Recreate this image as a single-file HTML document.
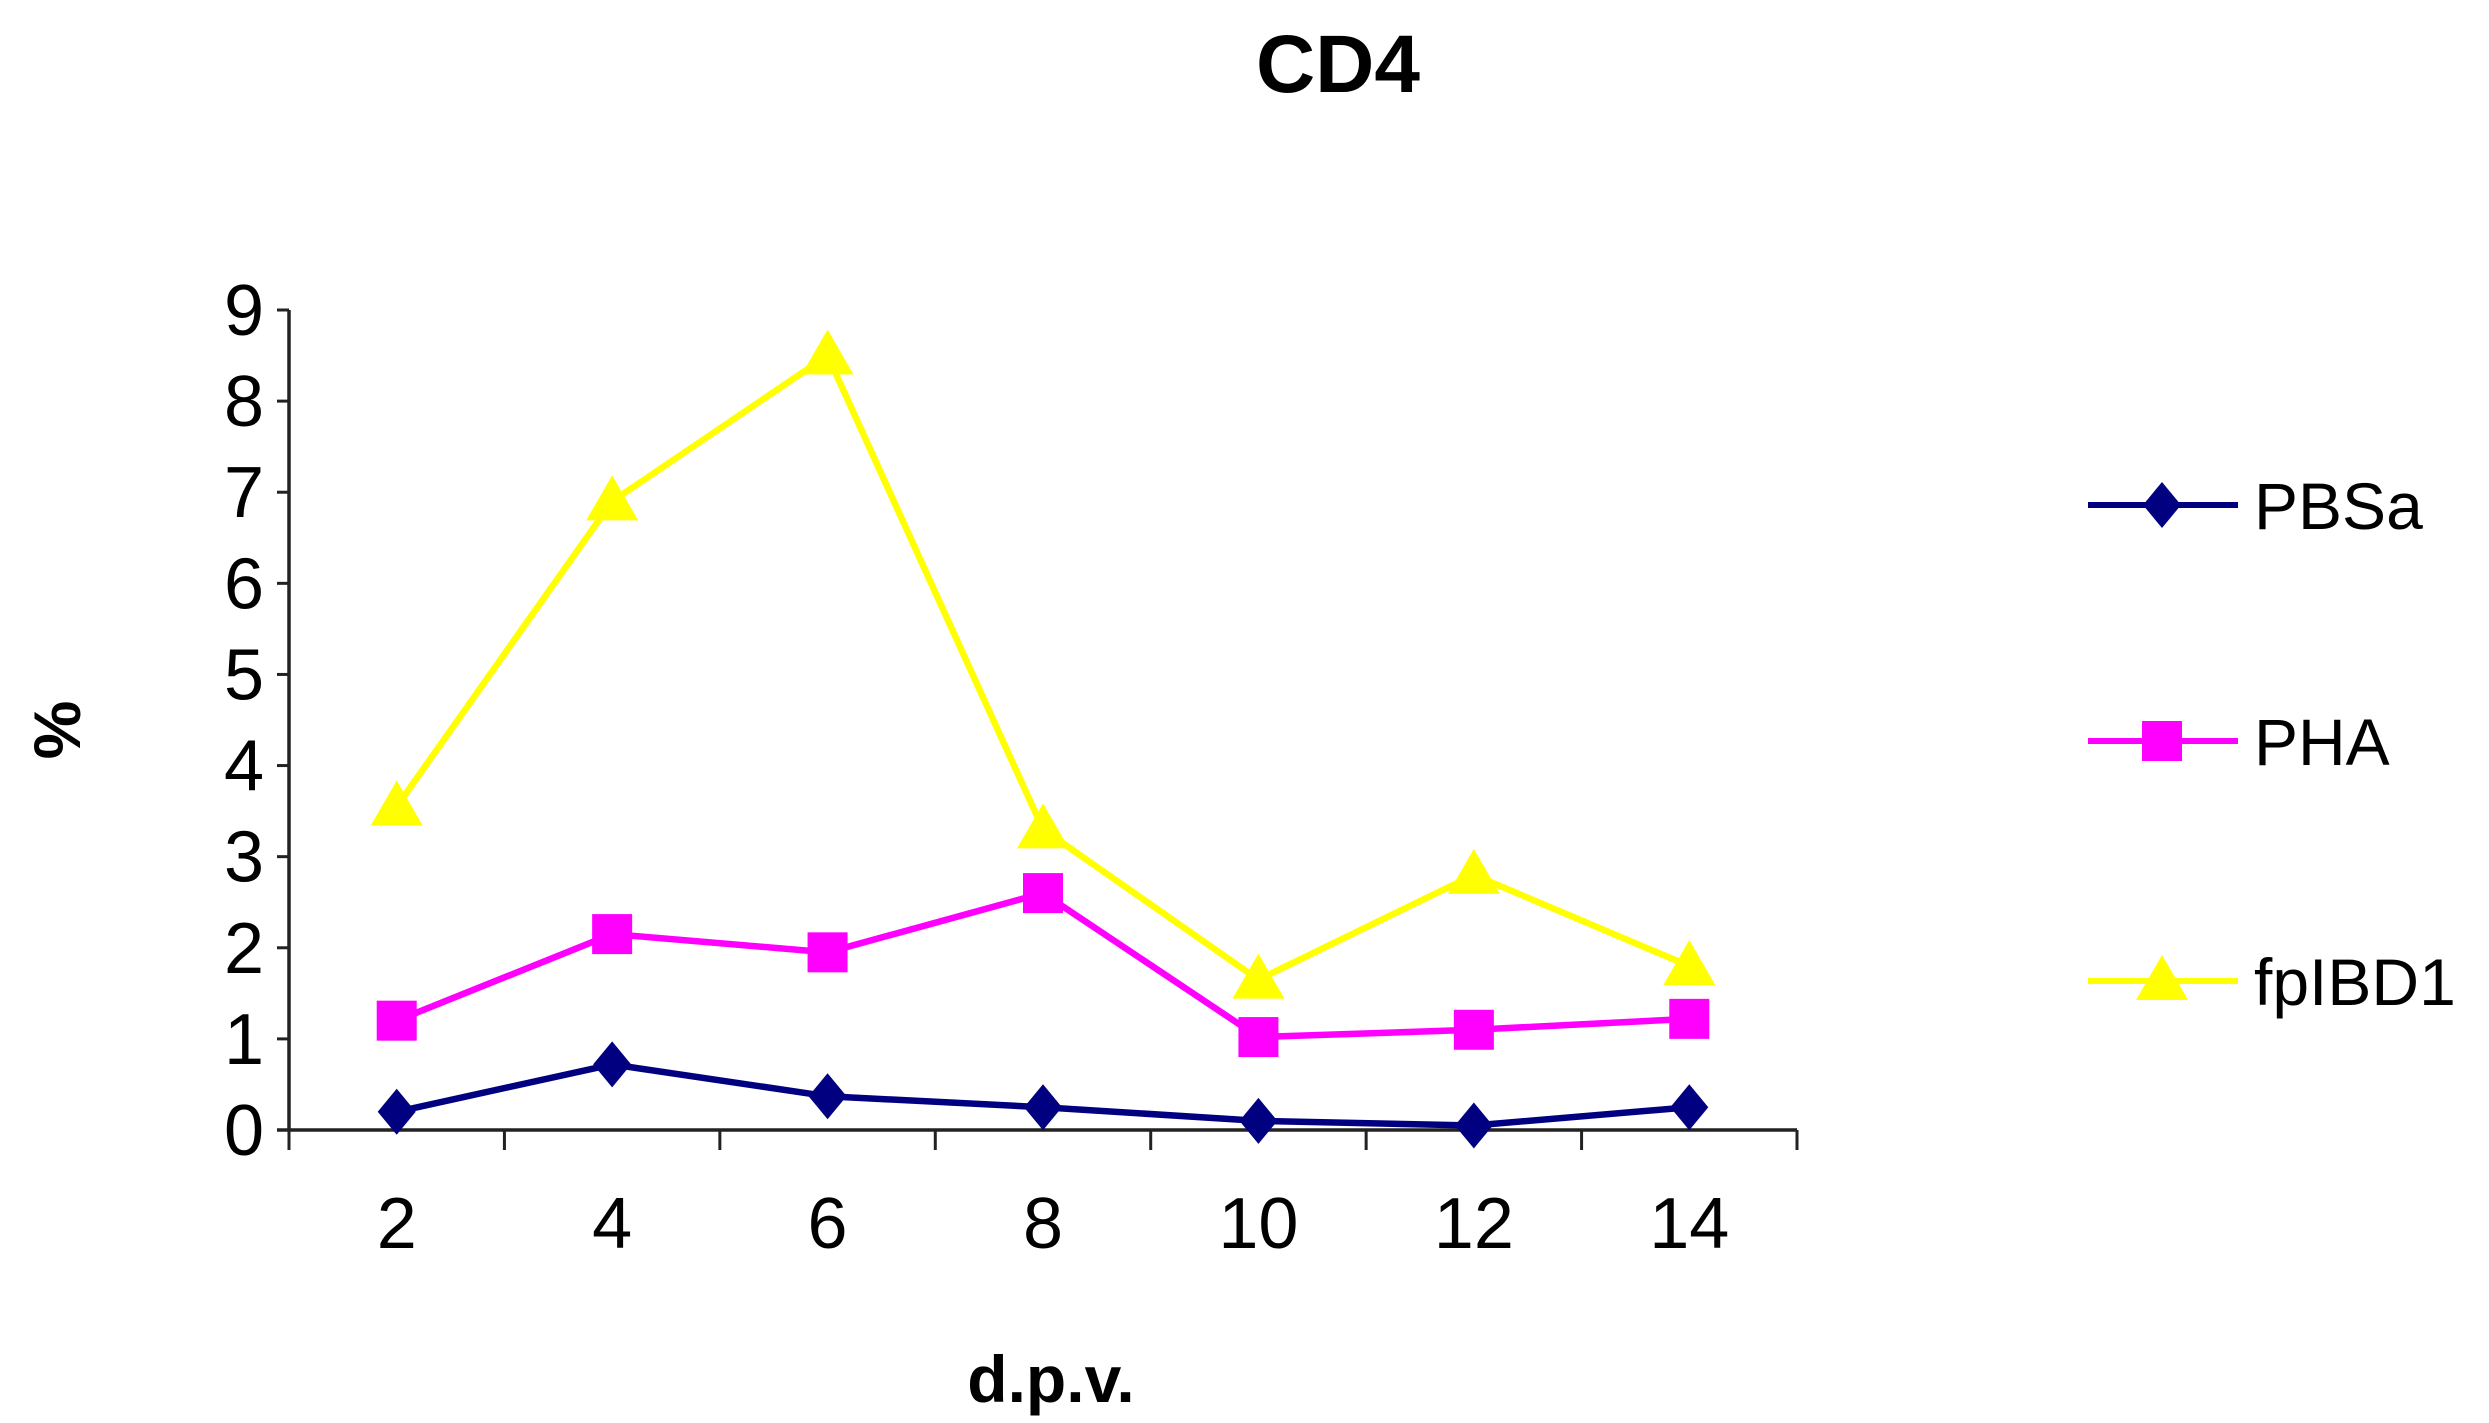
<!DOCTYPE html>
<html><head><meta charset="utf-8"><style>
html,body{margin:0;padding:0;background:#fff;}
svg{display:block;font-family:"Liberation Sans",Arial,sans-serif;}
</style></head><body>
<svg id="chart" width="2489" height="1423" viewBox="0 0 2489 1423" xmlns="http://www.w3.org/2000/svg">
<text x="1338" y="92" text-anchor="middle" font-size="82" font-weight="bold">CD4</text>
<text x="0" y="0" transform="translate(80,730) rotate(-90)" text-anchor="middle" font-size="66" font-weight="bold">%</text>
<text x="1051" y="1402" text-anchor="middle" font-size="66" font-weight="bold">d.p.v.</text>
<g id="axes"></g>
<g id="series"></g>
<g id="legend"></g>
</svg>
<script>
const categories = ["2","4","6","8","10","12","14"];
const yTicks = [0,1,2,3,4,5,6,7,8,9];
const pbsa = [0.2,0.72,0.37,0.25,0.1,0.05,0.25];
const pha = [1.2,2.15,1.95,2.6,1.02,1.1,1.22];
const fpibd1 = [3.55,6.9,8.5,3.3,1.65,2.8,1.8];
const seriesNames = ["PBSa","PHA","fpIBD1"];

const NS="http://www.w3.org/2000/svg";
const X0=289, X1=1797, Y0=1130, Y9=310;
const band=(X1-X0)/categories.length;
function xPos(i){return X0+band*(i+0.5);}
function yPos(v){return Y0-(Y0-Y9)*v/9;}
function mk(tag,attrs,parent){const e=document.createElementNS(NS,tag);for(const k in attrs)e.setAttribute(k,attrs[k]);parent.appendChild(e);return e;}
const axes=document.getElementById('axes');
let yl=mk('line',{x1:X0,y1:Y9,x2:X0,y2:Y0,stroke:'#222','stroke-width':3.5},axes);


let xl=mk('line',{x1:X0-12,y1:Y0,x2:X1,y2:Y0,stroke:'#222','stroke-width':3.5},axes);


yTicks.forEach(v=>{
  const y=yPos(v);
  mk('line',{x1:X0-12,y1:y,x2:X0,y2:y,stroke:'#222','stroke-width':3},axes);
  const t=mk('text',{x:264,y:y+25,'text-anchor':'end','font-size':72},axes);
  t.textContent=v;
  
  
});
for(let i=0;i<=categories.length;i++){
  mk('line',{x1:X0+band*i,y1:Y0,x2:X0+band*i,y2:Y0+20,stroke:'#222','stroke-width':3},axes);
}
categories.forEach((c,i)=>{
  const t=mk('text',{x:xPos(i),y:1248,'text-anchor':'middle','font-size':72},axes);
  t.textContent=c;
  
  
});
function marker(type,cx,cy,color,parent){
  let e;
  if(type==='diamond') e=mk('polygon',{points:`${cx},${cy-23} ${cx+19},${cy} ${cx},${cy+23} ${cx-19},${cy}`,fill:color},parent);
  else if(type==='square') e=mk('rect',{x:cx-20,y:cy-20,width:40,height:40,fill:color},parent);
  else e=mk('polygon',{points:`${cx},${cy-26} ${cx+26},${cy+19} ${cx-26},${cy+19}`,fill:color},parent);
  return e;
}
const sg=document.getElementById('series');
const defs=[[pbsa,'#000080','diamond','pbsa'],[pha,'#ff00ff','square','pha'],[fpibd1,'#ffff00','triangle','fpibd1']];
defs.forEach(([data,col,type,nm])=>{
  const pl=mk('polyline',{points:data.map((v,i)=>xPos(i)+','+yPos(v)).join(' '),fill:'none',stroke:col,'stroke-width':6.5},sg);
  
  
  data.forEach((v,i)=>{
    const m=marker(type,xPos(i),yPos(v),col,sg);
    
    
  });
});
const lg=document.getElementById('legend');
const ly=[505,741,981];
defs.forEach(([data,col,type,nm],k)=>{
  const g=mk('g',{},lg);
  
  
  mk('line',{x1:2088,y1:ly[k],x2:2238,y2:ly[k],stroke:col,'stroke-width':6},g);
  marker(type,2162,ly[k],col,g);
  const t=mk('text',{x:2254,y:ly[k]+24,'font-size':66},g);
  t.textContent=seriesNames[k];
});
</script>
</body></html>
